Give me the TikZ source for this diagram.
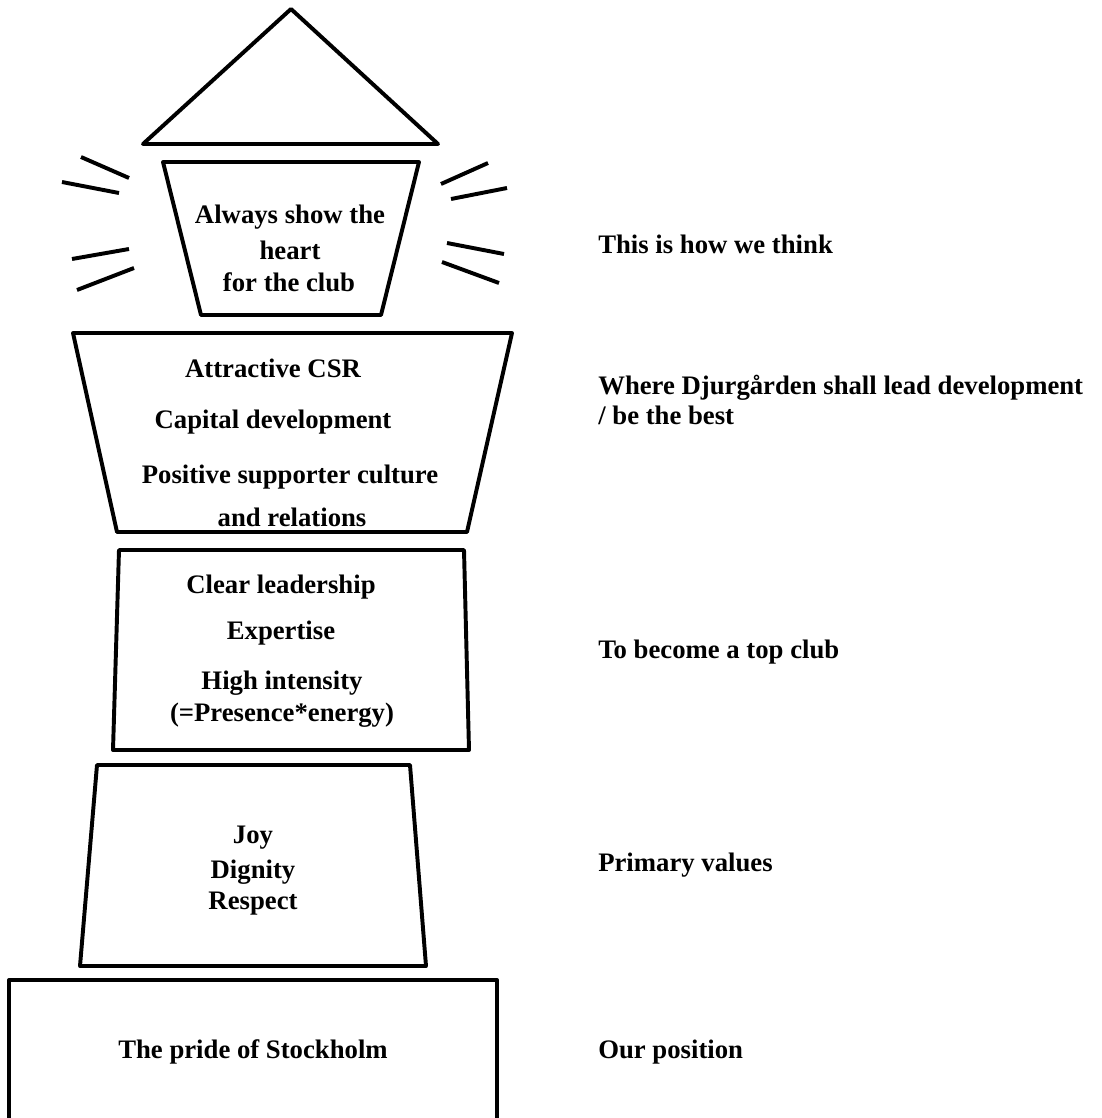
\documentclass[tikz,border=0pt]{standalone}
\usepackage{fontspec}
\setmainfont{Liberation Serif}

\tikzset{
    tier/.style={line width=2.8pt, line join=round},
    ray/.style={line width=2.8pt},
    word/.style={font=\fontsize{19}{21.5}\selectfont\bfseries, align=center, inner sep=0pt},
    tag/.style={word, anchor=west, align=left}
}

\begin{document}
\begin{tikzpicture}[x=0.025cm, y=-0.025cm]
            \useasboundingbox (0, 0) rectangle (1101, 1118);
            \draw[tier] (291, 9) -- (438, 144) -- (143, 144) -- cycle;
            \draw[tier] (163, 162) -- (419, 162) -- (381, 315) -- (201, 315) -- cycle;
            \foreach \a/\b/\c/\d in {81/157/129/178, 62/182/119/193, 72/259/129/249, 77/290/134/268,
                                     441/184/488/163, 451/199/507/188, 447/243/504/254, 442/262/499/283} {
                \draw[ray] (\a, \b) -- (\c, \d);
            }
            \draw[tier] (73, 333) -- (512, 333) -- (467, 532) -- (117, 532) -- cycle;
            \draw[tier] (119, 550) -- (464, 550) -- (469, 750) -- (113, 750) -- cycle;
            \draw[tier] (97, 765) -- (410, 765) -- (426, 966) -- (80, 966) -- cycle;
            \draw[tier] (9, 1125) -- (9, 980) -- (497, 980) -- (497, 1125);
            \node[word] (heart1) at (290, 217) {Always show the};
            \node[word] (heart2) at (290, 250) {heart};
            \node[word] (heart3) at (289, 282) {for the club};
            \node[word] (csr) at (273, 368) {Attractive CSR};
            \node[word] (capital) at (273, 422) {Capital development};
            \node[word] (culture) at (290, 477) {Positive supporter culture};
            \node[word] (relations) at (292, 517) {and relations};
            \node[word] (leader) at (281, 587) {Clear leadership};
            \node[word] (expert) at (281, 633) {Expertise};
            \node[word] (intense) at (282, 683) {High intensity};
            \node[word] (presence) at (282, 715) {(=Presence*energy)};
            \node[word] (joy) at (253, 838) {Joy};
            \node[word] (dignity) at (253, 872) {Dignity};
            \node[word] (respect) at (253, 904) {Respect};
            \node[word] (pride) at (253, 1052) {The pride of Stockholm};
            \node[tag] (think) at (598, 244) {This is how we think};
            \node[tag] (lead) at (598, 400) {Where Djurgården shall lead development\\/ be the best};
            \node[tag] (top) at (598, 652) {To become a top club};
            \node[tag] (primary) at (598, 865) {Primary values};
            \node[tag] (position) at (598, 1052) {Our position};
        \end{tikzpicture}
\end{document}
